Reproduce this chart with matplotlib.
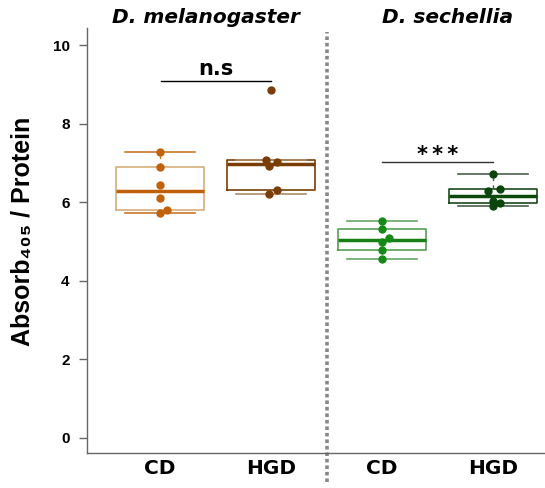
import numpy as np
import matplotlib
matplotlib.use("Agg")
import matplotlib.pyplot as plt

# values, 6 flies per group
groups = ["CD", "HGD", "CD", "HGD"]
species = ["D. melanogaster", "D. sechellia"]
mel_cd = [7.27, 6.90, 6.45, 6.11, 5.79, 5.73]
mel_hgd = [8.85, 7.07, 7.02, 6.91, 6.30, 6.22]
sec_cd = [5.53, 5.31, 5.08, 5.00, 4.78, 4.56]
sec_hgd = [6.71, 6.34, 6.28, 6.04, 5.98, 5.90]
data = [mel_cd, mel_hgd, sec_cd, sec_hgd]
# small horizontal jitter of the dots
jit = [[0, 0, 0, 0, 0.06, 0],
       [0, -0.045, 0.05, -0.015, 0.05, -0.015],
       [0, 0, 0.06, 0, 0, 0],
       [0, 0.065, -0.05, 0, 0.065, 0]]

pt_col = ["#c0620c", "#7a3d05", "#168a16", "#0b450b"]
box_col = ["#d6ae7c", "#7a3d05", "#55a055", "#1c4a1c"]
med_col = ["#c0600a", "#7a3d05", "#168016", "#0b4a0b"]
cap_col = ["#c8782a", "#b08a68", "#66a866", "#4a604a"]


def fivenum_stats(v):
    v = np.sort(np.asarray(v))
    n = len(v)
    med = np.median(v)
    lo = np.median(v[:(n + 1) // 2])
    hi = np.median(v[n // 2:])
    iqr = hi - lo
    wlo = v[v >= lo - 1.5 * iqr].min()
    whi = v[v <= hi + 1.5 * iqr].max()
    return dict(med=med, q1=lo, q3=hi, whislo=wlo, whishi=whi, fliers=[])


fig = plt.figure(figsize=(5.45, 4.88), dpi=100)
ax = fig.add_axes([87 / 545, 35 / 488, 1 - 87 / 545, 425 / 488])

stats = [fivenum_stats(d) for d in data]
pos = np.arange(len(data))
bp = ax.bxp(stats, positions=pos, widths=0.8, showfliers=False,
            capwidths=0.63, patch_artist=False,
            whiskerprops=dict(linestyle=(0, (3, 3)), linewidth=1),
            capprops=dict(linewidth=1.2),
            boxprops=dict(linewidth=1.2),
            medianprops=dict(linewidth=2.5))
for i in range(len(data)):
    bp["boxes"][i].set_color(box_col[i])
    bp["medians"][i].set_color(med_col[i])
    for k in (2 * i, 2 * i + 1):
        bp["whiskers"][k].set_color(cap_col[i])
        bp["caps"][k].set_color(cap_col[i])
    ax.plot(pos[i] + np.array(jit[i]), data[i], "o", color=pt_col[i],
            markersize=5, zorder=3)

ax.set_xlim(-0.658, 3.468)
ax.set_ylim(-0.382, 10.433)
ax.set_yticks([0, 2, 4, 6, 8, 10])
ax.set_yticklabels(["0", "2", "4", "6", "8", "10"], fontfamily="Liberation Sans",
                   fontweight="bold", fontsize=11)
ax.set_xticks(pos)
ax.set_xticklabels(groups, fontfamily="DejaVu Sans", fontweight="bold", fontsize=14.5)
ax.tick_params(axis="x", length=0, pad=4)
ax.tick_params(axis="y", length=5.5, width=1, color="#666666", pad=7)
for s in ("top", "right"):
    ax.spines[s].set_visible(False)
for s in ("left", "bottom"):
    ax.spines[s].set_color("#666666")
    ax.spines[s].set_linewidth(1)

# separator between the species
ax.plot([1.5, 1.5], [-1.12, 10.33], color="#888888", linewidth=2.6,
        linestyle=(0, (1, 0.8)), clip_on=False, zorder=0)

ax.text(0.41, 10.69, species[0], ha="center", va="center", fontsize=14.5,
        fontweight="bold", fontstyle="italic", family="DejaVu Sans", clip_on=False)
ax.text(2.59, 10.69, species[1], ha="center", va="center", fontsize=14.5,
        fontweight="bold", fontstyle="italic", family="DejaVu Sans", clip_on=False)

# significance bars
ax.plot([0.01, 1.0], [9.09, 9.09], color="black", linewidth=1)
ax.text(0.505, 9.4, "n.s", ha="center", va="center", fontsize=15, fontweight="bold")
ax.plot([2.0, 3.0], [7.02, 7.02], color="#333333", linewidth=1)
ax.text(2.5, 7.2, "*\u2009*\u2009*", ha="center", va="center", fontsize=15,
        fontweight="bold", family="DejaVu Sans")

fig.text(23 / 545, 1 - 231 / 488, "Absorb\u2084\u2080\u2085 / Protein", rotation=90,
         ha="center", va="center", fontsize=18, fontweight="bold",
         family=["Liberation Sans", "DejaVu Sans"])

fig.savefig("out.png", dpi=100)
